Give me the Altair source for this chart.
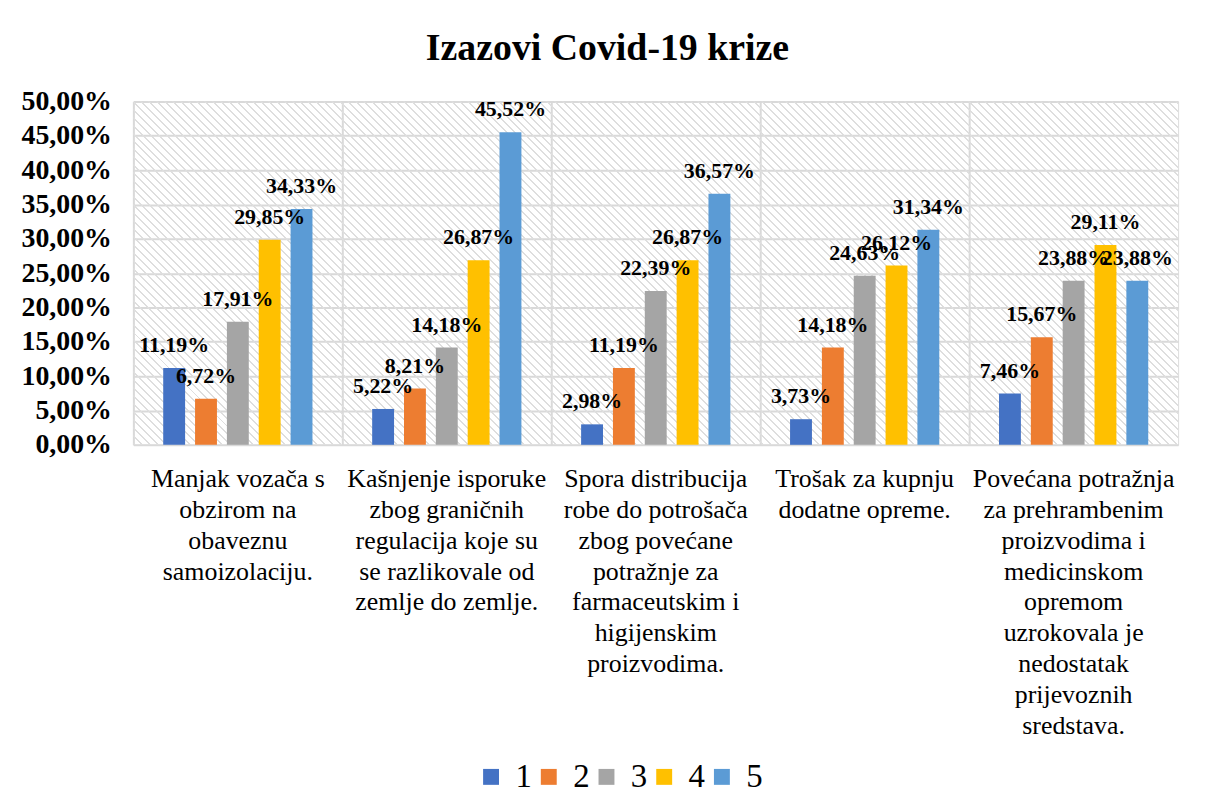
import altair as alt
import pandas as pd

# ---- data ----
categories = [
    "Manjak vozača s|obzirom na|obaveznu|samoizolaciju.",
    "Kašnjenje isporuke|zbog graničnih|regulacija koje su|se razlikovale od|zemlje do zemlje.",
    "Spora distribucija|robe do potrošača|zbog povećane|potražnje za|farmaceutskim i|higijenskim|proizvodima.",
    "Trošak za kupnju|dodatne opreme.",
    "Povećana potražnja|za prehrambenim|proizvodima i|medicinskom|opremom|uzrokovala je|nedostatak|prijevoznih|sredstava.",
]
series = ["1", "2", "3", "4", "5"]
s1 = [0.1119, 0.0522, 0.0298, 0.0373, 0.0746]
s2 = [0.0672, 0.0821, 0.1119, 0.1418, 0.1567]
s3 = [0.1791, 0.1418, 0.2239, 0.2463, 0.2388]
s4 = [0.2985, 0.2687, 0.2687, 0.2612, 0.2911]
s5 = [0.3433, 0.4552, 0.3657, 0.3134, 0.2388]
colors = ["#4472C4", "#ED7D31", "#A5A5A5", "#FFC000", "#5B9BD5"]
y_ticks = [0, 0.05, 0.10, 0.15, 0.20, 0.25, 0.30, 0.35, 0.40, 0.45, 0.50]

rows = []
for si, vals in zip(series, [s1, s2, s3, s4, s5]):
    for c, v in zip(categories, vals):
        rows.append({"cat": c, "series": si, "value": v})
df = pd.DataFrame(rows)

W, H = 1050, 345
SERIF = "Liberation Serif"

# ---- diagonal hatch for the plot background (gradient stripes) ----
period = 8.0
lw = 2.0
total = W + H
stops = []
k = 0
while k * period < total:
    a = k * period / total
    b = min((k * period + lw) / total, 1.0)
    c = min(((k + 1) * period) / total, 1.0)
    stops += [
        {"offset": a, "color": "rgba(222,222,222,1)"},
        {"offset": b, "color": "rgba(222,222,222,1)"},
        {"offset": b, "color": "rgba(255,255,255,0)"},
        {"offset": c, "color": "rgba(255,255,255,0)"},
    ]
    k += 1
s = ((W + H) / W) / (1 + (H / W) ** 2)
hatch_fill = {"gradient": "linear", "x1": 0, "y1": 1, "x2": s, "y2": 1 - s * H / W, "stops": stops}

hatch = alt.Chart(alt.Data(values=[{"k": 1}])).mark_rect(fill=hatch_fill).encode(
    x=alt.value(0), x2=alt.value("width"), y=alt.value(0), y2=alt.value("height")
)

x_enc = alt.X(
    "cat:N",
    sort=categories,
    title=None,
    scale=alt.Scale(paddingInner=0, paddingOuter=0),
    axis=alt.Axis(
        labelExpr="split(datum.label, '|')",
        labelAngle=0,
        labelFont=SERIF,
        labelFontSize=26,
        labelLineHeight=31,
        labelColor="black",
        labelPadding=21,
        labelLimit=0,
        ticks=False,
        domain=False,
        grid=False,
        orient="bottom",
    ),
)
xoff = alt.XOffset(
    "series:N",
    sort=series,
    scale=alt.Scale(paddingInner=0.3125, paddingOuter=0.9375),
)
y_enc = alt.Y(
    "value:Q",
    title=None,
    scale=alt.Scale(domain=[0, 0.5], nice=False),
    axis=alt.Axis(
        values=y_ticks,
        tickCount=11,
        labelExpr="replace(format(datum.value, '.2%'), '.', ',')",
        labelFont=SERIF,
        labelFontSize=28,
        labelFontWeight="bold",
        labelColor="black",
        labelPadding=22,
        labelOverlap=False,
        labelBound=False,
        ticks=False,
        domain=False,
        grid=True,
        gridColor="#D9D9D9",
        gridWidth=2,
    ),
)

bars = alt.Chart(df).mark_bar().encode(
    x=x_enc,
    xOffset=xoff,
    y=y_enc,
    color=alt.Color(
        "series:N",
        scale=alt.Scale(domain=series, range=colors),
        legend=alt.Legend(
            title=None,
            orient="none",
            legendX=343,
            legendY=662,
            direction="horizontal",
            labelFont=SERIF,
            labelFontSize=33,
            labelColor="black",
            symbolType="square",
            symbolSize=256,
            symbolStrokeWidth=0,
            symbolOpacity=1,
            columnPadding=0,
            labelOffset=8,
            padding=0,
        ),
    ),
)

labels = alt.Chart(df).transform_calculate(
    lbl="replace(format(datum.value, '.2%'), '.', ',')"
).mark_text(
    font=SERIF, fontSize=22, fontWeight="bold", color="black", dy=-16, baseline="alphabetic"
).encode(
    x=alt.X(
        "cat:N",
        sort=categories,
        axis=alt.Axis(
            bandPosition=0,
            grid=True,
            gridColor="#D9D9D9",
            gridWidth=2,
            labels=False,
            ticks=False,
            domain=False,
            title=None,
            orient="top",
        ),
    ),
    xOffset=xoff,
    y=y_enc,
    text="lbl:N",
)

chart = (
    alt.layer(hatch, bars, labels)
    .resolve_axis(x="independent")
    .properties(
        width=W,
        height=H,
        title=alt.TitleParams(
            "Izazovi Covid-19 krize",
            font=SERIF,
            fontSize=38,
            fontWeight="bold",
            color="black",
            anchor="middle",
            frame="bounds",
            offset=20,
            dx=8,
        ),
        padding={"left": 13, "top": 20, "right": 20, "bottom": 8},
    )
    .configure_view(stroke="#D9D9D9", strokeWidth=2)
    .configure(background="white")
)

chart.save("out.html", embed_options={"renderer": "svg", "actions": False})
